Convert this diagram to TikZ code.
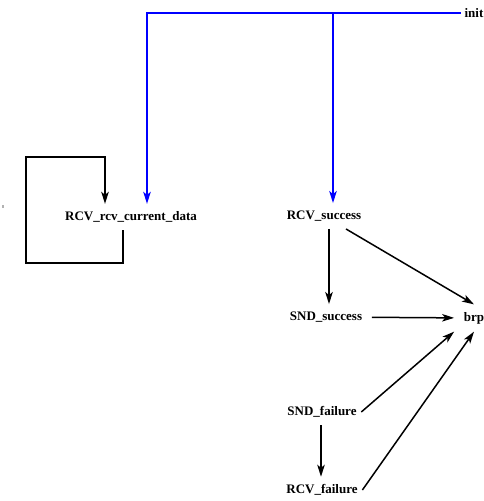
\documentclass[tikz,border=0pt]{standalone}
\usepackage{fontspec}
\setmainfont{Liberation Serif}
\usetikzlibrary{arrows.meta,positioning,calc}

\tikzset{
  state/.style={font=\fontsize{13}{15}\selectfont\bfseries, inner xsep=9pt, inner ysep=7pt},
  trans/.style={->, black},
  initline/.style={->, blue}
}

\begin{document}
\begin{tikzpicture}[x=1pt, y=-1pt, >={Stealth[length=12pt,width=7.5pt,inset=3pt]}, line width=1.5pt]
  \useasboundingbox (0,0) rectangle (484,501);
  \fill[gray!60] (1.5,205) rectangle (4,207.5);
  \node[state, inner xsep=3pt] (init) at (474,13) {init};
  \node[state] (rcvdata) at (131,217) {RCV\_rcv\_current\_data};
  \node[state] (rcvsucc) at (324,216) {RCV\_success};
  \node[state] (sndsucc) at (326,317) {SND\_success};
  \node[state] (brp) at (474,318) {brp};
  \node[state, inner xsep=4pt] (sndfail) at (322,412) {SND\_failure};
  \node[state, inner xsep=4pt] (rcvfail) at (322,490) {RCV\_failure};
  % helper points for the bent lines
  \coordinate (ia) at (147,13);
  \coordinate (ib) at (333,13);
  \coordinate (la) at (123,263);
  \coordinate (lb) at (26,157);
  \coordinate (lc) at (105,157);
  \coordinate (sa) at (329,0);
  \coordinate (fa) at (321,0);
  % init transitions
  \draw[initline] (init.west) -- (ia) -- (ia |- rcvdata.north);
  \draw[initline] (ib) -- (ib |- rcvsucc.north);
  % self loop
  \draw[trans] (la |- rcvdata.south) -- (la) -| (lb) -- (lc) -- (lc |- rcvdata.north);
  \draw[trans] (sa |- rcvsucc.south) -- (sa |- sndsucc.north);
  \draw[trans] (rcvsucc) -- (brp.north);
  \draw[trans] (sndsucc) -- (brp);
  \draw[trans] (sndfail.east) -- (brp.south west);
  \draw[trans] (rcvfail.east) -- (brp.south);
  \draw[trans] (fa |- sndfail.south) -- (fa |- rcvfail.north);
\end{tikzpicture}
\end{document}
